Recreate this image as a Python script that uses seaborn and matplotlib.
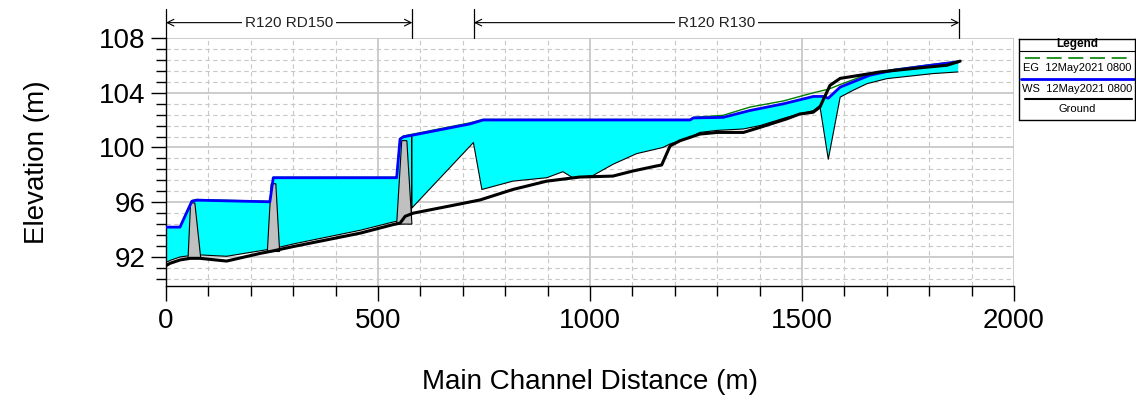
import matplotlib.pyplot as plt
import matplotlib.transforms as mtransforms
from matplotlib.ticker import MultipleLocator
import seaborn as sns

# --- profile data (station in m, elevation in m) ---
ground_x = [0, 9, 33, 57, 80, 143, 222, 252, 300, 379, 458, 535, 552, 564, 583, 693, 741, 818,
            898, 976, 1054, 1101, 1157, 1169, 1189, 1212, 1259, 1300, 1362, 1401, 1464, 1495,
            1526, 1542, 1566, 1590, 1637, 1684, 1762, 1842, 1873]
ground_y = [91.36, 91.53, 91.78, 91.9, 91.9, 91.7, 92.26, 92.44, 92.76, 93.25, 93.74, 94.36,
            94.47, 94.97, 95.2, 95.87, 96.17, 96.93, 97.54, 97.84, 97.91, 98.28, 98.65, 98.72,
            100.12, 100.49, 100.98, 101.1, 101.1, 101.47, 102.09, 102.45, 102.57, 102.94,
            104.54, 105.05, 105.28, 105.52, 105.77, 106.01, 106.31]

ws_x = [0, 33, 61, 72, 245, 253, 540, 544, 552, 560, 583, 717, 748, 1236, 1244, 1314, 1377,
        1456, 1527, 1550, 1562, 1590, 1660, 1715, 1802, 1869]
ws_y = [94.18, 94.18, 96.07, 96.15, 96.03, 97.79, 97.79, 97.79, 100.61, 100.78, 100.91, 101.72,
        102.01, 102.01, 102.16, 102.2, 102.7, 103.19, 103.73, 103.73, 103.6, 104.41, 105.28,
        105.64, 106.0, 106.26]
eg_y = [94.2, 94.2, 96.12, 96.2, 96.06, 97.82, 97.82, 97.82, 100.66, 100.84, 100.98, 101.8,
        102.05, 102.04, 102.2, 102.35, 102.95, 103.4, 104.0, 104.17, 104.25, 104.6, 105.4,
        105.7, 106.05, 106.3]

# lower edge of the wetted (cyan) area
bed_x = [0, 10, 33, 56, 80, 143, 222, 252, 300, 379, 458, 535, 552, 564, 579, 579.5, 580, 725,
         745, 818, 898, 936, 960, 1007, 1054, 1110, 1172, 1189, 1236, 1259, 1300, 1361, 1401,
         1464, 1527, 1542, 1562, 1590, 1620, 1653, 1700, 1809, 1868]
bed_y = [91.6, 91.75, 92.0, 92.1, 92.15, 92.05, 92.45, 92.6, 92.95, 93.45, 93.95, 94.55, 94.65,
         95.1, 95.3, 100.9, 95.58, 100.36, 96.93, 97.54, 97.79, 98.23, 97.78, 97.95, 98.77,
         99.55, 100.0, 100.26, 100.73, 101.1, 101.25, 101.35, 101.6, 102.2, 102.7, 103.07,
         99.14, 103.68, 104.17, 104.66, 105.03, 105.4, 105.52]

# inline structures (weirs)
weir_left = [52, 239, 544]
weir_right = [82, 268, 580]
weir_top_left = [58, 248, 556]
weir_top_right = [68, 259, 568]
weir_base = [91.9, 92.4, 94.4]
weir_crest = [95.95, 97.35, 100.5]

reach_names = ['R120 RD150', 'R120 R130']
reach_start = [0, 726]
reach_end = [581, 1871]

legend_labels = ['EG  12May2021 0800', 'WS  12May2021 0800', 'Ground']

sns.set_theme(style='ticks')
plt.rcParams['font.family'] = ['Liberation Sans', 'DejaVu Sans']

fig = plt.figure(figsize=(11.36, 4.01), dpi=100)
ax = fig.add_axes([166 / 1136, 1 - 285.7 / 401, 848 / 1136, 247.7 / 401])

# water area
poly_x = ws_x + bed_x[::-1]
poly_y = ws_y + bed_y[::-1]
ax.fill(poly_x, poly_y, color='#00ffff', lw=0, zorder=2)
sns.lineplot(x=bed_x, y=bed_y, ax=ax, color='black', lw=0.8, sort=False, estimator=None, zorder=3)

# weirs
for i in range(len(weir_left)):
    ax.fill([weir_left[i], weir_top_left[i], weir_top_right[i], weir_right[i]],
            [weir_base[i], weir_crest[i], weir_crest[i], weir_base[i]],
            facecolor='#c0c0c0', edgecolor='black', lw=0.8, zorder=4)

sns.lineplot(x=ws_x, y=eg_y, ax=ax, color='#008000', lw=1.0, sort=False, estimator=None, zorder=5)
sns.lineplot(x=ws_x, y=ws_y, ax=ax, color='#0000ff', lw=2.0, sort=False, estimator=None, zorder=6)
sns.lineplot(x=ground_x, y=ground_y, ax=ax, color='black', lw=2.2, sort=False, estimator=None, zorder=7)

ax.set_xlim(0, 2000)
ax.set_ylim(89.9, 108)
ax.xaxis.set_major_locator(MultipleLocator(500))
ax.xaxis.set_minor_locator(MultipleLocator(100))
ax.yaxis.set_major_locator(MultipleLocator(4))
ax.yaxis.set_minor_locator(MultipleLocator(0.8))
ax.grid(which='major', color='#c8c8c8', lw=1.3, ls='-', zorder=0)
ax.grid(which='minor', color='#c8c8c8', lw=0.8, ls=(0, (4, 3)), zorder=0)
ax.set_axisbelow(True)
ax.tick_params(which='major', direction='out', length=11, width=1, labelsize=20,
               colors='black', pad=4)
ax.tick_params(axis='x', which='major', pad=5)
ax.tick_params(which='minor', direction='out', length=7, width=1, colors='black')
for s in ['top', 'right']:
    ax.spines[s].set_visible(False)
for s in ['left', 'bottom']:
    ax.spines[s].set_color('black')
    ax.spines[s].set_linewidth(1)

ax.set_xlabel('Main Channel Distance (m)', fontsize=20, color='black')
ax.set_ylabel('Elevation (m)', fontsize=20, color='black')
ax.xaxis.set_label_coords(0.5, -0.39)
ax.xaxis.label.set_verticalalignment('center')
ax.yaxis.set_label_coords(-0.152, 0.5)
ax.yaxis.label.set_verticalalignment('center')

# reach brackets above the plot
trans = mtransforms.blended_transform_factory(ax.transData, ax.transAxes)
for name, s, e in zip(reach_names, reach_start, reach_end):
    ax.annotate('', xy=(s, 1.062), xytext=(e, 1.062), xycoords=trans, textcoords=trans,
                arrowprops=dict(arrowstyle='<->', lw=0.8, color='black', shrinkA=0, shrinkB=0),
                annotation_clip=False)
    for xv in (s, e):
        ax.plot([xv, xv], [1.0, 1.117], transform=trans, color='black', lw=0.9, clip_on=False)
    ax.text((s + e) / 2, 1.062, name, transform=trans, ha='center', va='center', fontsize=11,
            color='#222222', bbox=dict(facecolor='white', edgecolor='none', pad=2))

# legend box
lax = fig.add_axes([1019 / 1136, 1 - 119.5 / 401, 116 / 1136, 80.5 / 401])
lax.set_xlim(0, 1)
lax.set_ylim(80.5, 0)
lax.set_xticks([])
lax.set_yticks([])
for s in lax.spines.values():
    s.set_color('black')
    s.set_linewidth(1)
lax.text(0.5, 5.3, 'Legend', ha='center', va='center', fontsize=8.5, fontweight='bold', color='black')
lax.plot([0, 1], [11.7, 11.7], color='black', lw=0.8)
lax.plot([0.05, 0.97], [18.7, 18.7], color='#008000', lw=1.2, ls=(0, (9, 4)))
lax.text(0.5, 29.3, legend_labels[0], ha='center', va='center', fontsize=8, color='black')
lax.plot([0.02, 0.99], [40, 40], color='#0000ff', lw=2)
lax.text(0.5, 50.3, legend_labels[1], ha='center', va='center', fontsize=8, color='black')
lax.plot([0.05, 0.97], [60.3, 60.3], color='black', lw=1.5)
lax.text(0.5, 70, legend_labels[2], ha='center', va='center', fontsize=8, color='black')

fig.savefig('out.png', dpi=100)
